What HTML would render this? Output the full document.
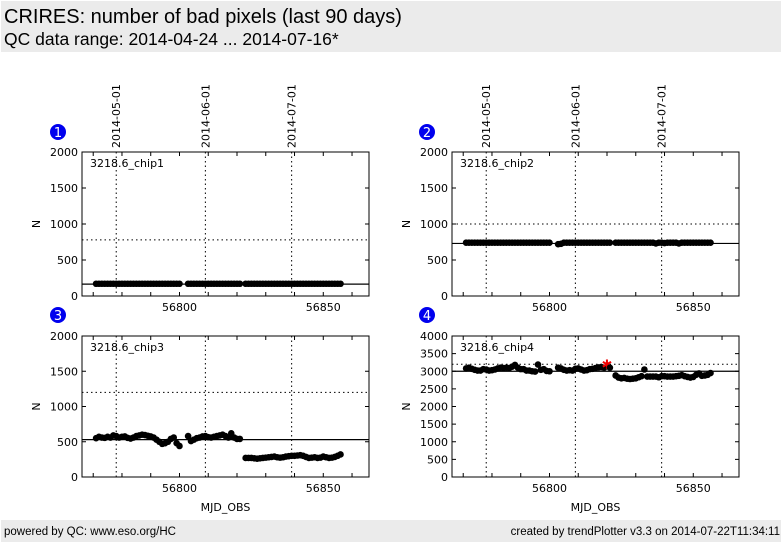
<!DOCTYPE html>
<html><head><meta charset="utf-8"><style>
body{margin:0;width:782px;height:542px;background:#fff;overflow:hidden;font-family:"Liberation Sans",sans-serif}
.band{position:absolute;left:1px;width:780px;background:#ebebeb}
</style></head><body>
<div class="band" style="top:1px;height:51px">
<div style="position:absolute;left:3px;top:5px;font-size:20px">CRIRES: number of bad pixels (last 90 days)</div>
<div style="position:absolute;left:3px;top:28px;font-size:17.5px">QC data range: 2014-04-24 ... 2014-07-16*</div>
</div>
<svg id="c" width="782" height="542" style="position:absolute;left:0;top:0"></svg>
<div class="band" style="top:520px;height:22px;font-size:11.5px">
<span style="position:absolute;left:3px;top:6px">powered by QC: www.eso.org/HC</span>
<span style="position:absolute;right:1px;top:6px">created by trendPlotter v3.3 on 2014-07-22T11:34:11</span>
</div>
<script>
const days=[56771,56772,56773,56774,56775,56776,56777,56778,56779,56780,56781,56782,56783,56784,56785,56786,56787,56788,56789,56790,56791,56792,56793,56794,56795,56796,56797,56798,56799,56800,
56803,56804,56805,56806,56807,56808,56809,56810,56811,56812,56813,56814,56815,56816,56817,56818,56819,56820,56821,
56823,56824,56825,56826,56827,56828,56829,56830,56831,56832,56833,56834,56835,56836,56837,56838,56839,56840,56841,56842,56843,56844,56845,56846,56847,56848,56849,56850,56851,56852,56853,56854,56855,56856];
const chip1=[170,170,170,170,170,170,170,170,170,170,170,170,170,170,170,170,170,170,170,170,170,170,170,170,170,170,170,170,170,170,
170,170,170,170,170,170,170,170,170,170,170,170,170,170,170,170,170,170,170,
170,170,170,170,170,170,170,170,170,170,170,170,170,170,170,170,170,170,170,170,170,170,170,170,170,170,170,170,170,170,170,170,170,170];
const chip2=[740,740,740,740,740,740,740,740,740,740,740,740,740,740,740,740,740,740,740,740,740,740,740,740,740,740,740,740,740,740,
720,725,740,740,740,740,740,740,740,740,740,740,740,740,740,740,740,740,740,
740,740,740,740,740,740,740,740,740,740,740,740,740,740,730,740,740,735,740,740,740,740,730,740,740,740,740,740,740,740,740,740,740,740];
const chip3=[550,570,560,555,570,560,590,580,560,570,575,555,545,560,580,590,600,595,585,575,560,530,500,470,480,500,540,560,480,440,
580,510,530,550,560,575,580,565,560,570,580,590,600,580,560,620,560,540,540,
270,270,270,265,260,265,270,275,280,285,290,280,275,280,290,295,300,300,305,310,300,285,270,275,280,270,275,290,280,270,275,285,300,320];
const chip4=[3080,3100,3070,3040,3020,3020,3060,3050,3020,3030,3050,3080,3100,3090,3100,3090,3130,3180,3100,3060,3060,3020,3020,3000,2990,3190,3040,3060,3010,3000,
3100,3080,3040,3020,3030,3020,3070,3080,3050,3020,3030,3060,3070,3090,3110,3120,3100,3230,3100,
2880,2820,2800,2810,2790,2780,2790,2800,2830,2860,3050,2850,2850,2850,2850,2830,2860,2860,2850,2850,2850,2860,2870,2890,2860,2840,2820,2840,2900,2940,2870,2880,2900,2950];
const series=[chip1,chip2,chip3,chip4];
const names=["3218.6_chip1","3218.6_chip2","3218.6_chip3","3218.6_chip4"];
const refLine=[165,730,530,3000];
const upperLimit=[780,1000,1200,3200];
const yMax=[2000,2000,2000,4000];
const yStep=[500,500,500,500];
const dateLabels=["2014-05-01","2014-06-01","2014-07-01"];
const dateMjd=[56778,56809,56839];
const xTicks=[56800,56850];
const xMin=56766.1,xMax=56865.9;
const boxes=[[82,152,369,296],[452,152,739,296],[82,336,369,477],[452,336,739,477]];
const svg=document.getElementById('c');const NS="http://www.w3.org/2000/svg";
function mk(t,a,p){const e=document.createElementNS(NS,t);for(const k in a)e.setAttribute(k,a[k]);(p||svg).appendChild(e);return e;}
for(let i=0;i<4;i++){
 const [x0,y0,x1,y1]=boxes[i];
 const g=mk('g',{});
 
 
 const X=v=>x0+(v-xMin)/(xMax-xMin)*(x1-x0);
 const Y=v=>y1-v/yMax[i]*(y1-y0);
 const cx=i%2?427:58, cy=i<2?132:315;
 const b=mk('circle',{cx:cx,cy:cy,r:8,fill:'#0000ee'},g);
 
 
 const bt=mk('text',{x:cx,y:cy+5,'text-anchor':'middle','font-size':13,fill:'#fff','font-family':'DejaVu Sans,sans-serif'},g);bt.textContent=i+1;
 dateMjd.forEach((d,j)=>{const xx=X(d);
  const l=mk('line',{x1:xx,x2:xx,y1:y0,y2:y1,stroke:'#000','stroke-dasharray':'1.5,3','stroke-width':1},g);
  
  
  if(i<2){const t=mk('text',{x:0,y:0,transform:`translate(${xx+4},148) rotate(-90)`,'font-size':11,'font-family':'DejaVu Sans,sans-serif'},g);t.textContent=dateLabels[j];
   
   }
 });
 const ul=mk('line',{x1:x0,x2:x1,y1:Y(upperLimit[i]),y2:Y(upperLimit[i]),stroke:'#000','stroke-dasharray':'1.5,3'},g);
 
 
 const rl=mk('line',{x1:x0,x2:x1,y1:Y(refLine[i]),y2:Y(refLine[i]),stroke:'#000','stroke-width':1.2},g);
 
 
 for(let v=0;v<=yMax[i];v+=yStep[i]){const yy=Y(v);
  mk('line',{x1:x0,x2:x0+4,y1:yy,y2:yy,stroke:'#000'},g);mk('line',{x1:x1-4,x2:x1,y1:yy,y2:yy,stroke:'#000'},g);
  const t=mk('text',{x:x0-4,y:yy+4,'text-anchor':'end','font-size':11,'font-family':'DejaVu Sans,sans-serif'},g);t.textContent=v;
  
  }
 for(let v=56770;v<xMax;v+=10){const xx=X(v);
  mk('line',{x1:xx,x2:xx,y1:y1,y2:y1-4,stroke:'#000'},g);mk('line',{x1:xx,x2:xx,y1:y0,y2:y0+4,stroke:'#000'},g);}
 xTicks.forEach(v=>{const t=mk('text',{x:X(v),y:y1+15,'text-anchor':'middle','font-size':11,'font-family':'DejaVu Sans,sans-serif'},g);t.textContent=v;
  
  });
 const fr=mk('rect',{x:x0,y:y0,width:x1-x0,height:y1-y0,fill:'none',stroke:'#000'},g);
 
 
 const nm=mk('text',{x:x0+8,y:y0+15,'font-size':11,'font-family':'DejaVu Sans,sans-serif'},g);nm.textContent=names[i];
 
 
 const yl=mk('text',{x:0,y:0,transform:`translate(${x0-42},${(y0+y1)/2}) rotate(-90)`,'text-anchor':'middle','font-size':11,'font-family':'DejaVu Sans,sans-serif'},g);yl.textContent='N';
 
 
 if(i>=2){const xl=mk('text',{x:(x0+x1)/2,y:511,'text-anchor':'middle','font-size':11,'font-family':'DejaVu Sans,sans-serif'},g);xl.textContent='MJD_OBS';
  
  }
 series[i].forEach((v,k)=>{const px=X(days[k]),py=Y(v);
  if(v>upperLimit[i]){const s=mk('text',{x:px,y:py+6,'text-anchor':'middle','font-size':13,fill:'#e00','font-weight':'bold','font-family':'DejaVu Sans,sans-serif'},g);s.textContent='✱';
   
   }
  else{const c=mk('circle',{cx:px,cy:py,r:3.3,fill:'#000'},g);
   
   }
 });
}
</script>
</body></html>
